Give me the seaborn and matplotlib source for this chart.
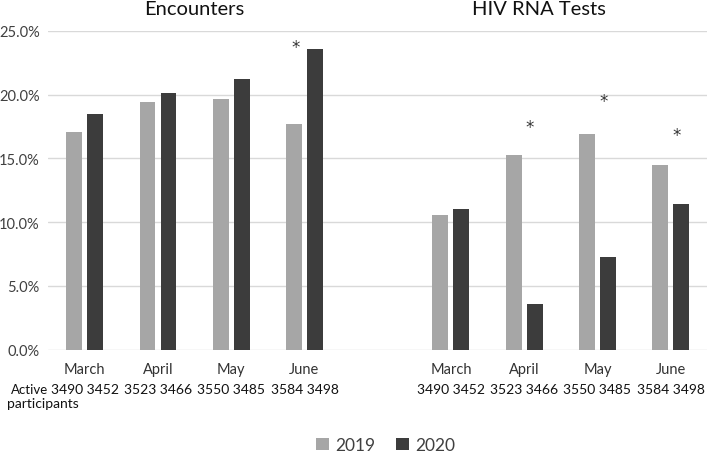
import matplotlib
matplotlib.use("Agg")
import matplotlib.pyplot as plt
import matplotlib.transforms as mtransforms
import pandas as pd
import seaborn as sns

months = ["March", "April", "May", "June"]
years = ["2019", "2020"]
encounters_2019 = [17.1, 19.4, 19.65, 17.7]
encounters_2020 = [18.45, 20.15, 21.25, 23.55]
hiv_2019 = [10.55, 15.25, 16.95, 14.45]
hiv_2020 = [11.0, 3.6, 7.3, 11.45]
participants_2019 = [3490, 3523, 3550, 3584]
participants_2020 = [3452, 3466, 3485, 3498]
# months with a significant change, and the height of the star (in %)
enc_star_months = ["June"]
enc_star_heights = [24.2]
hiv_star_months = ["April", "May", "June"]
hiv_star_heights = [18.0, 20.0, 17.3]

sns.set_style("white")
plt.rcParams["font.family"] = ["Lato", "DejaVu Sans"]

rows = []
for panel, v19, v20 in [("Encounters", encounters_2019, encounters_2020),
                        ("HIV RNA Tests", hiv_2019, hiv_2020)]:
    for i, m in enumerate(months):
        rows.append({"slot": f"{panel} {m}", "year": "2019", "value": v19[i]})
        rows.append({"slot": f"{panel} {m}", "year": "2020", "value": v20[i]})
df = pd.DataFrame(rows)

order = [f"Encounters {m}" for m in months] + ["gap"] + [f"HIV RNA Tests {m}" for m in months]

fig = plt.figure(figsize=(7.08, 4.56), dpi=100)
ax = fig.add_axes([0.068, 0.231, 0.931, 0.699])

sns.barplot(data=df, x="slot", y="value", hue="year", order=order, hue_order=years,
            palette={"2019": "#A6A6A6", "2020": "#3C3C3C"}, width=0.574, gap=0.24,
            linewidth=0, ax=ax, legend=True)

ax.set_xlim(-0.5, 8.5)
ax.set_ylim(0, 25)
ax.set_yticks([0, 5, 10, 15, 20, 25])
ax.set_yticklabels([f"{t:.1f}%" for t in [0, 5, 10, 15, 20, 25]], fontsize=10.5, color="#404040")
ax.set_xticks(range(len(order)))
ax.set_xticklabels([s.split()[-1] if s != "gap" else "" for s in order], fontsize=10.5, color="#333333")
ax.tick_params(axis="y", length=0, pad=6)
ax.tick_params(axis="x", length=0, pad=9)
ax.yaxis.grid(True, color="#D9D9D9", linewidth=1)
ax.set_axisbelow(True)
for sp in ax.spines.values():
    sp.set_visible(False)
ax.set_xlabel("")
ax.set_ylabel("")

# participant counts under the month labels
trans = mtransforms.blended_transform_factory(ax.transData, fig.transFigure)
for i, s in enumerate(order):
    if s == "gap":
        continue
    k = months.index(s.split()[-1])
    ax.text(i, 1 - 390 / 456, f"{participants_2019[k]} {participants_2020[k]}",
            transform=trans, ha="center", va="center", fontsize=10, color="#111111")
fig.text(11 / 708, 1 - 390 / 456, "Active", ha="left", va="center", fontsize=9.5, color="#111111")
fig.text(7 / 708, 1 - 404 / 456, "participants", ha="left", va="center", fontsize=10, color="#111111")

# significance stars
for m, h in zip(enc_star_months, enc_star_heights):
    ax.text(order.index(f"Encounters {m}") - 0.12, h - 0.5, "*", ha="center", va="center",
            fontsize=12, color="#333333", family="DejaVu Sans")
for m, h in zip(hiv_star_months, hiv_star_heights):
    ax.text(order.index(f"HIV RNA Tests {m}") + 0.08, h - 0.5, "*", ha="center", va="center",
            fontsize=12, color="#333333", family="DejaVu Sans")

# panel titles
ax.text(1.5, 1 - 1 / 456, "Encounters", transform=trans, ha="center", va="top", fontsize=14.5, color="#111111")
ax.text(6.2, 1 - 1 / 456, "HIV RNA Tests", transform=trans, ha="center", va="top", fontsize=14.5, color="#111111")

handles, labels = ax.get_legend_handles_labels()
ax.get_legend().remove()
fig.legend(handles, labels, loc="center", bbox_to_anchor=(386 / 708, 1 - 446 / 456), ncol=2,
           frameon=False, fontsize=12.5, handlelength=0.7, handleheight=0.7, handletextpad=0.4,
           columnspacing=1.2, labelcolor="#404040", borderpad=0.2)

fig.savefig("out.png", dpi=100)
